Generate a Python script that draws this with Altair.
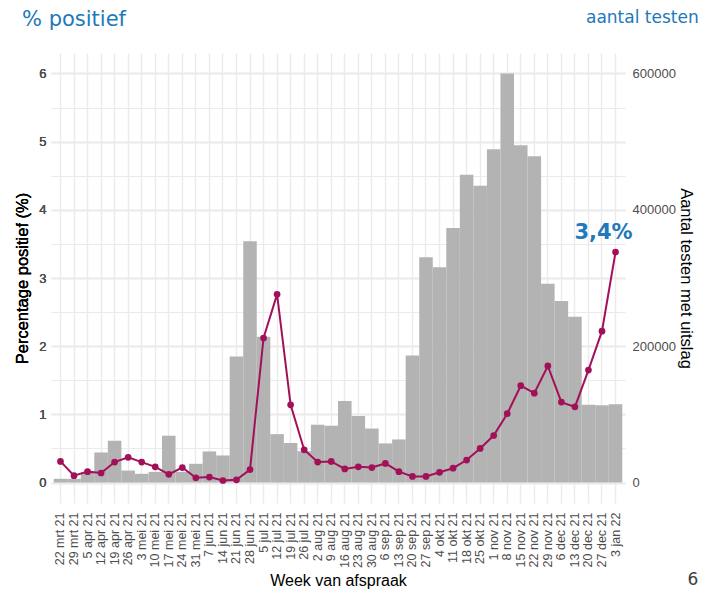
import altair as alt
import pandas as pd

weeks = ["22 mrt 21", "29 mrt 21", "5 apr 21", "12 apr 21", "19 apr 21", "26 apr 21",
         "3 mei 21", "10 mei 21", "17 mei 21", "24 mei 21", "31 mei 21", "7 jun 21",
         "14 jun 21", "21 jun 21", "28 jun 21", "5 jul 21", "12 jul 21", "19 jul 21",
         "26 jul 21", "2 aug 21", "9 aug 21", "16 aug 21", "23 aug 21", "30 aug 21",
         "6 sep 21", "13 sep 21", "20 sep 21", "27 sep 21", "4 okt 21", "11 okt 21",
         "18 okt 21", "25 okt 21", "1 nov 21", "8 nov 21", "15 nov 21", "22 nov 21",
         "29 nov 21", "6 dec 21", "13 dec 21", "20 dec 21", "27 dec 21", "3 jan 22"]

tests = [5500, 5500, 14200, 44100, 61300, 17600, 12800, 15700, 68700, 15700, 27500, 45600,
         39700, 184800, 354000, 214000, 71000, 58000, 46000, 84800, 83300, 119600, 97500, 79200,
         57400, 63200, 186300, 330400, 315700, 373500, 451500, 435300, 488700, 600000, 494600, 478400,
         291600, 266200, 243100, 114200, 113200, 114700]

pct = [0.31, 0.10, 0.16, 0.14, 0.30, 0.37, 0.30, 0.23, 0.12, 0.22, 0.07, 0.08,
       0.03, 0.04, 0.19, 2.12, 2.76, 1.14, 0.48, 0.30, 0.31, 0.20, 0.23, 0.22,
       0.28, 0.16, 0.09, 0.09, 0.15, 0.21, 0.33, 0.50, 0.69, 1.01, 1.42, 1.31,
       1.71, 1.18, 1.11, 1.65, 2.22, 3.38]

left_ticks = [0, 0.5, 1, 1.5, 2, 2.5, 3, 3.5, 4, 4.5, 5, 5.5, 6]
right_ticks = [0, 200000, 400000, 600000]

df = pd.DataFrame({"week": weeks, "tests": tests, "pct": pct})
last = pd.DataFrame({"week": [weeks[-1]], "pct": [pct[-1]], "label": ["3,4%"]})

AX_FONT = "Liberation Sans"
LINE_COL = "#a3105a"
BLUE = "#2079ba"

xenc = alt.X(
    "week:N", sort=weeks,
    scale=alt.Scale(paddingInner=0, paddingOuter=0.2),
    axis=alt.Axis(title="Week van afspraak", labelAngle=-90, labelPadding=9,
                  ticks=False, domain=False, grid=True, gridColor="#ebebeb",
                  gridWidth=1.4, bandPosition=0.5, labelColor="#4d4d4d",
                  labelFont=AX_FONT, labelFontSize=12.5, titleFont=AX_FONT,
                  titleFontSize=16, titleFontWeight="normal", titleColor="#000000",
                  titlePadding=5),
)

yscale = alt.Scale(domain=[-0.3, 6.3], nice=False, zero=False)

bars = alt.Chart(df).mark_bar(color="#b3b3b3").encode(
    x=xenc,
    y=alt.Y("tests:Q", scale=alt.Scale(domain=[-30000, 630000], nice=False, zero=False),
            axis=alt.Axis(orient="right", values=right_ticks, format="d",
                          title="Aantal testen met uitslag", titleAngle=90,
                          grid=False, ticks=False, domain=False, labelPadding=7,
                          labelColor="#4d4d4d", labelFont=AX_FONT, labelFontSize=13,
                          titleFont=AX_FONT, titleFontSize=16.5, titleFontWeight="normal",
                          titleColor="#000000", titlePadding=2)),
)

yleft = alt.Y("pct:Q", scale=yscale,
              axis=alt.Axis(orient="left", values=left_ticks,
                            labelExpr="datum.value % 1 == 0 ? format(datum.value, 'd') : ''",
                            title="Percentage positief (%)", grid=True, gridColor="#ebebeb",
                            gridWidth={"condition": {"test": "datum.value % 1 == 0", "value": 1.4},
                                       "value": 0.8},
                            ticks=False, domain=False, labelPadding=5,
                            labelColor="#4d4d4d", labelFont=AX_FONT, labelFontSize=13,
                            titleFont=AX_FONT, titleFontSize=16.5, titleFontWeight="normal",
                            titleColor="#000000", titlePadding=8))

line = alt.Chart(df).mark_line(color=LINE_COL, strokeWidth=2).encode(x=xenc, y=yleft)
points = alt.Chart(df).mark_point(color=LINE_COL, filled=True, opacity=1, size=45).encode(
    x=xenc, y=yleft)

label = alt.Chart(last).mark_text(color=BLUE, font="DejaVu Sans", fontWeight="bold",
                                  fontSize=21, dx=-12, dy=-19).encode(
    x=xenc, y=yleft, text="label:N",
)

hdr_left = alt.Chart(pd.DataFrame({"t": ["% positief"]})).mark_text(
    color=BLUE, font="DejaVu Sans", fontSize=21, align="left", baseline="middle").encode(
    x=alt.value(-29), y=alt.value(-33), text="t:N")
hdr_right = alt.Chart(pd.DataFrame({"t": ["aantal testen"]})).mark_text(
    color=BLUE, font="DejaVu Sans", fontSize=17, align="left", baseline="middle").encode(
    x=alt.value(535), y=alt.value(-35), text="t:N")
page_no = alt.Chart(pd.DataFrame({"t": ["6"]})).mark_text(
    color="#404040", font="DejaVu Sans", fontSize=17, align="center", baseline="bottom").encode(
    x=alt.value(642), y=alt.value(536), text="t:N")

chart = alt.layer(bars, line, points, label, hdr_left, hdr_right, page_no).resolve_scale(
    y="independent"
).properties(
    width=574, height=450,
    autosize=alt.AutoSizeParams(type="none"),
    padding={"left": 43, "top": 45, "right": 85, "bottom": 86},
).configure_view(stroke=None)

chart.save("out.html", embed_options={"renderer": "svg", "actions": False})
